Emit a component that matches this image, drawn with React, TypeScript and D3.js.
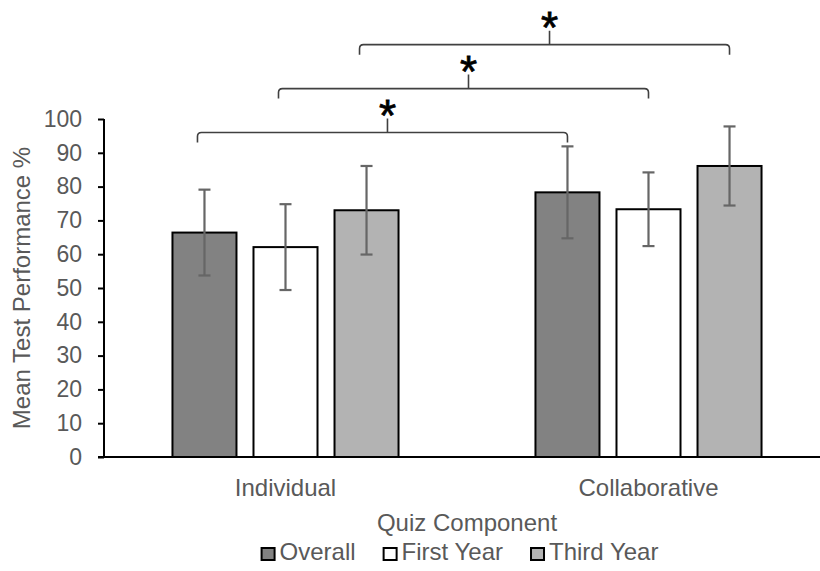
import React, { useEffect, useRef } from "react";
import * as d3 from "d3";

const categories = ["Individual", "Collaborative"];
const seriesNames = ["Overall", "First Year", "Third Year"];
const seriesColors = ["#828282", "#ffffff", "#b3b3b3"];

// mean test performance per category, one array per series
const overallValues = [66.4, 78.3];
const firstYearValues = [62.1, 73.3];
const thirdYearValues = [73.0, 86.1];

// error bar half-lengths
const overallErrors = [12.7, 13.6];
const firstYearErrors = [12.7, 10.9];
const thirdYearErrors = [13.1, 11.7];

const yTicks = [0, 10, 20, 30, 40, 50, 60, 70, 80, 90, 100];

// significance brackets: which series is compared across categories, and bracket height (data units)
const bracketSeries = ["Overall", "First Year", "Third Year"];
const bracketLevels = [96, 109, 122];

const App = () => {
  const chartRef = useRef(null);

  useEffect(() => {
    document.body.style.margin = "0";
    drawChart();
  }, []);

  const drawChart = () => {
    const width = 820;
    const height = 571;
    const margin = { left: 104, right: -10, top: 119, bottom: 114 };
    const font = "Arial, 'Liberation Sans', sans-serif";
    const textColor = "#595959";

    const svg = d3.select(chartRef.current).attr("width", width).attr("height", height);
    svg.selectAll("*").remove();

    const values = [overallValues, firstYearValues, thirdYearValues];
    const errors = [overallErrors, firstYearErrors, thirdYearErrors];

    const data = categories.flatMap((cat, ci) =>
      seriesNames.map((s, si) => ({
        category: cat,
        series: s,
        value: values[si][ci],
        error: errors[si][ci],
        color: seriesColors[si],
      }))
    );

    const x0 = d3
      .scaleBand()
      .domain(categories)
      .range([margin.left, width - margin.right]);

    const x1 = d3
      .scaleBand()
      .domain(seriesNames)
      .range([0, x0.bandwidth()])
      .paddingInner(0.21)
      .paddingOuter(0.845);

    const y = d3
      .scaleLinear()
      .domain([0, 100])
      .range([height - margin.bottom, margin.top]);

    // y axis
    const yAxis = d3
      .axisLeft(y)
      .tickValues(yTicks)
      .tickSize(6)
      .tickPadding(16)
      .tickFormat(d3.format("d"));

    const gy = svg.append("g").attr("transform", `translate(${margin.left},0)`).call(yAxis);
    gy.select(".domain").remove();
    gy.selectAll(".tick line").attr("stroke", "#000").attr("stroke-width", 2);
    gy.selectAll(".tick text")
      .attr("fill", textColor)
      .style("font-family", font)
      .style("font-size", "23px");

    svg
      .append("line")
      .attr("x1", margin.left)
      .attr("x2", margin.left)
      .attr("y1", y(0))
      .attr("y2", y(100))
      .attr("stroke", "#000")
      .attr("stroke-width", 2);

    // bars
    svg
      .append("g")
      .selectAll("rect")
      .data(data)
      .enter()
      .append("rect")
      .attr("x", (d) => x0(d.category) + x1(d.series))
      .attr("y", (d) => y(d.value))
      .attr("width", x1.bandwidth())
      .attr("height", (d) => y(0) - y(d.value))
      .attr("fill", (d) => d.color)
      .attr("stroke", "#000")
      .attr("stroke-width", 2);

    // error bars
    const cap = 6;
    const eb = svg.append("g").attr("stroke", "#666").attr("stroke-width", 2.2);
    data.forEach((d) => {
      const cx = x0(d.category) + x1(d.series) + x1.bandwidth() / 2;
      const top = y(d.value + d.error);
      const bot = y(d.value - d.error);
      eb.append("line").attr("x1", cx).attr("x2", cx).attr("y1", top).attr("y2", bot);
      eb.append("line").attr("x1", cx - cap).attr("x2", cx + cap).attr("y1", top).attr("y2", top);
      eb.append("line").attr("x1", cx - cap).attr("x2", cx + cap).attr("y1", bot).attr("y2", bot);
    });

    // baseline
    svg
      .append("line")
      .attr("x1", margin.left - 6)
      .attr("x2", width)
      .attr("y1", y(0))
      .attr("y2", y(0))
      .attr("stroke", "#000")
      .attr("stroke-width", 2);

    // category labels
    svg
      .append("g")
      .selectAll("text")
      .data(categories)
      .enter()
      .append("text")
      .attr("x", (d) => x0(d) + x0.bandwidth() / 2)
      .attr("y", y(0) + 39)
      .attr("text-anchor", "middle")
      .attr("fill", textColor)
      .style("font-family", font)
      .style("font-size", "24px")
      .text((d) => d);

    // axis titles
    svg
      .append("text")
      .attr("x", (margin.left + width - margin.right) / 2)
      .attr("y", y(0) + 74)
      .attr("text-anchor", "middle")
      .attr("fill", textColor)
      .style("font-family", font)
      .style("font-size", "24px")
      .text("Quiz Component");

    svg
      .append("text")
      .attr("transform", `translate(30,${(y(0) + y(100)) / 2}) rotate(-90)`)
      .attr("text-anchor", "middle")
      .attr("fill", textColor)
      .style("font-family", font)
      .style("font-size", "24px")
      .text("Mean Test Performance %");

    // significance brackets
    const bg = svg.append("g");
    bracketSeries.forEach((s, i) => {
      const xl = x0(categories[0]) + x1(s) + x1.bandwidth() / 2 - 7;
      const xr = x0(categories[1]) + x1(s) + x1.bandwidth() / 2;
      const by = y(bracketLevels[i]);
      const drop = 10;
      const r = 4;
      const xm = (xl + xr) / 2 + 5;
      bg.append("path")
        .attr(
          "d",
          `M${xl},${by + drop} L${xl},${by + r} Q${xl},${by} ${xl + r},${by} L${xr - r},${by} Q${xr},${by} ${xr},${by + r} L${xr},${by + drop}` +
            ` M${xm},${by} L${xm},${by - 14}`
        )
        .attr("fill", "none")
        .attr("stroke", "#404040")
        .attr("stroke-width", 1.6);
      bg.append("text")
        .attr("x", xm)
        .attr("y", by - 2)
        .attr("text-anchor", "middle")
        .attr("fill", "#000")
        .attr("stroke", "#000")
        .attr("stroke-width", 0.8)
        .style("font-family", font)
        .style("font-size", "44px")
        .text("*");
    });

    // legend
    const legend = svg.append("g");
    const items = seriesNames.map((s, i) => {
      const g = legend.append("g");
      g.append("rect")
        .attr("x", 0)
        .attr("y", -12)
        .attr("width", 13)
        .attr("height", 12)
        .attr("fill", seriesColors[i])
        .attr("stroke", "#000")
        .attr("stroke-width", 2);
      const t = g
        .append("text")
        .attr("x", 18)
        .attr("y", 0)
        .attr("fill", textColor)
        .style("font-family", font)
        .style("font-size", "24px")
        .text(s);
      return { g, w: 18 + t.node().getComputedTextLength() };
    });
    const gap = 28;
    const total = d3.sum(items, (d) => d.w) + gap * (items.length - 1);
    let lx = 460 - total / 2;
    items.forEach((it) => {
      it.g.attr("transform", `translate(${lx},${y(0) + 103})`);
      lx += it.w + gap;
    });
  };

  return <svg ref={chartRef} style={{ display: "block" }}></svg>;
};

export default App;
